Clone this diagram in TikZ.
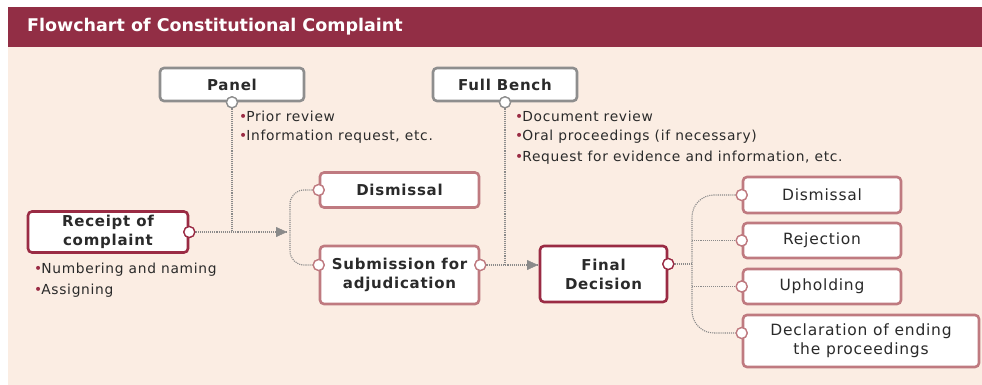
\documentclass[tikz,border=0pt]{standalone}
\usepackage{fontspec}
\setmainfont{DejaVu Sans}[LetterSpace=5]
\newfontfamily\titlefont{DejaVu Sans}
\usetikzlibrary{arrows.meta}
\definecolor{barred}{HTML}{922E45}
\definecolor{beige}{HTML}{FBEDE3}
\definecolor{darkred}{HTML}{9A2B44}
\definecolor{pinkred}{HTML}{BF7A80}
\definecolor{boxgray}{HTML}{8E8E8E}
\definecolor{txt}{HTML}{2A2A2A}
\definecolor{dotgray}{HTML}{8A8A8A}
\begin{document}
\begin{tikzpicture}[x=1pt,y=-1pt,
  box/.style={draw, line width=2.6pt, rounded corners=4pt, fill=white, text=txt, align=center, inner sep=0pt, font=\fontsize{15.5}{19}\selectfont},
  bold/.style={font=\fontsize{15}{19}\selectfont\bfseries},
  graybox/.style={box, draw=boxgray},
  redbox/.style={box, draw=darkred},
  pinkbox/.style={box, draw=pinkred},
  port/.style={circle, draw, line width=1.3pt, fill=white, minimum size=11pt, inner sep=0pt},
  conn/.style={draw=dotgray, line width=1.1pt, densely dotted},
  tip/.style={-{Triangle[length=11pt,width=10pt]}, dotgray},
  bul/.style={anchor=west, text=txt, font=\fontsize{13.8}{16}\selectfont, inner sep=0pt}
]
\useasboundingbox (0,0) rectangle (982,385);
\fill[white] (0,0) rectangle (982,385);
\fill[beige] (8,47) rectangle (982,385);
\fill[barred] (8,7) rectangle (982,47);
\node[anchor=west, text=white, inner sep=0pt, font=\titlefont\fontsize{17.5}{20}\selectfont\bfseries] (title) at (27,27) {Flowchart of Constitutional Complaint};

% nodes
\node[graybox, bold, minimum width=144pt, minimum height=33pt] (panel) at (232,84.5) {Panel};
\node[graybox, bold, minimum width=144pt, minimum height=33pt] (bench) at (505,84.5) {Full Bench};
\node[redbox, bold, minimum width=160pt, minimum height=41pt] (receipt) at (108,232) {Receipt of\\complaint};
\node[pinkbox, bold, minimum width=159pt, minimum height=35pt] (dism1) at (399.5,190) {Dismissal};
\node[pinkbox, bold, minimum width=159pt, minimum height=58pt] (subm) at (399.5,275) {Submission for\\adjudication};
\node[redbox, bold, minimum width=127pt, minimum height=56pt] (final) at (603.5,274) {Final\\Decision};
\node[pinkbox, minimum width=158pt, minimum height=36pt] (dism2) at (822,195) {Dismissal};
\node[pinkbox, minimum width=158pt, minimum height=35pt] (rej) at (822,240.5) {Rejection};
\node[pinkbox, minimum width=158pt, minimum height=35pt] (uph) at (822,286.5) {Upholding};
\node[pinkbox, minimum width=236pt, minimum height=52pt] (decl) at (861,341) {Declaration of ending\\the proceedings};

% ports
\node[port, draw=boxgray] (pP) at (panel.south) {};
\node[port, draw=boxgray] (pB) at (bench.south) {};
\node[port, draw=darkred] (pR) at (receipt.east) {};
\node[port, draw=pinkred] (pD1) at (dism1.west) {};
\node[port, draw=pinkred] (pSl) at (subm.west |- 0,265) {};
\node[port, draw=pinkred] (pSr) at (subm.east |- 0,265) {};
\node[port, draw=darkred] (pF) at (final.east |- 0,264) {};
\node[port, draw=pinkred] (pD2) at (dism2.west) {};
\node[port, draw=pinkred] (pRj) at (rej.west) {};
\node[port, draw=pinkred] (pU) at (uph.west) {};
\node[port, draw=pinkred] (pDc) at (decl.west |- 0,333) {};

\coordinate (a1) at (287,232);
\coordinate (j1) at (pP |- pR);
\coordinate (a2) at (538,265);
\coordinate (j2) at (pB |- pSr);
\coordinate (br1) at (290,232);
\coordinate (br2) at (692,264);

% connectors
\draw[conn] (pR) -- (a1);
\draw[conn] (pP) -- (j1);
\draw[tip] (276,232) -- (a1);
\draw[conn, rounded corners=14pt] (pD1) -- (br1 |- pD1) -- (br1 |- pSl) -- (pSl);
\draw[conn] (pSr) -- (a2);
\draw[conn] (pB) -- (j2);
\draw[tip] (526,265) -- (a2);
\draw[conn] (pF) -- (br2);
\draw[conn, rounded corners=22pt] (pD2) -- (br2 |- pD2) -- (br2 |- pDc) -- (pDc);
\draw[conn] (br2 |- pRj) -- (pRj);
\draw[conn] (br2 |- pU) -- (pU);
% redraw ports on top
\foreach \p/\c in {pP/boxgray,pB/boxgray,pR/darkred,pD1/pinkred,pSl/pinkred,pSr/pinkred,pF/darkred,pD2/pinkred,pRj/pinkred,pU/pinkred,pDc/pinkred}
  \node[port, draw=\c] at (\p) {};

% bullets
\newcommand{\bdot}{{\color{darkred}\textbullet}\hspace{-1pt}}
\node[bul] (b1) at (239,116) {\bdot Prior review};
\node[bul] (b2) at (239,137) {\bdot Information request, etc.};
\node[bul] (b3) at (515,116) {\bdot Document review};
\node[bul] (b4) at (515,137) {\bdot Oral proceedings (if necessary)};
\node[bul] (b5) at (515,158) {\bdot Request for evidence and information, etc.};
\node[bul] (b6) at (34,270) {\bdot Numbering and naming};
\node[bul] (b7) at (34,291) {\bdot Assigning};
\end{tikzpicture}
\end{document}
